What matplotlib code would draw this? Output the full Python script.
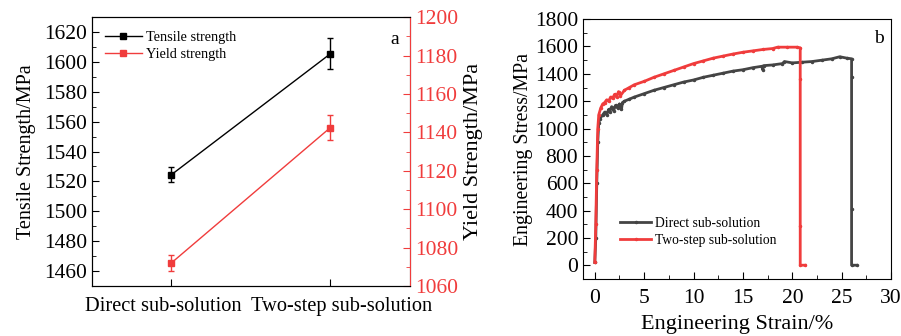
import matplotlib
matplotlib.use('Agg')
import matplotlib.pyplot as plt
from matplotlib.ticker import MultipleLocator

plt.rcParams['font.family'] = 'Liberation Serif'

# Panel a data
groups = ['Direct sub-solution', 'Two-step sub-solution']
tensile = [1524.5, 1605.5]
tensile_err = [5, 10.5]
yield_s = [1072, 1142.5]
yield_err = [4, 6.5]

# Panel b data (engineering stress-strain)
direct_strain = [0, 0.1, 0.2, 0.3, 0.4, 0.5, 0.8, 1.0, 1.2, 1.4, 1.5, 1.7, 1.9, 2.1, 2.3, 2.5, 2.7, 2.8, 3.0, 3.5,
                 4, 5, 6, 7, 8, 9, 10, 11, 12, 13, 14, 15, 16, 16.9, 17.0, 17.1, 18, 19, 19.2, 20, 21, 22, 23, 24,
                 24.8, 25.5, 26.0, 26.0, 26.0, 26.0, 26.5]
direct_stress = [20, 200, 600, 900, 1040, 1070, 1100, 1120, 1100, 1140, 1120, 1160, 1130, 1170, 1150, 1180, 1140,
                 1190, 1200, 1215, 1230, 1255, 1280, 1300, 1320, 1340, 1355, 1375, 1390, 1405, 1420, 1430, 1445,
                 1455, 1430, 1460, 1465, 1475, 1490, 1480, 1485, 1490, 1500, 1510, 1525, 1515, 1510, 1380, 410, 0, 0]
twostep_strain = [0, 0.1, 0.2, 0.3, 0.4, 0.6, 0.8, 1.0, 1.2, 1.4, 1.6, 1.8, 2.0, 2.2, 2.4, 2.6, 3.0, 3.5, 4, 5,
                  6, 7, 8, 9, 10, 11, 12, 13, 14, 15, 16, 17, 18, 18.5, 19.5, 20.5, 20.8, 20.8, 20.8, 20.8, 21.3]
twostep_stress = [20, 300, 700, 1000, 1100, 1150, 1180, 1190, 1210, 1200, 1230, 1220, 1250, 1230, 1270, 1240, 1280,
                  1300, 1320, 1345, 1375, 1400, 1425, 1450, 1475, 1495, 1515, 1530, 1545, 1558, 1568, 1578, 1585,
                  1595, 1595, 1595, 1590, 1360, 290, 0, 0]

black = '#000000'
red = '#f03c3c'
gray = '#444444'

fig = plt.figure(figsize=(9.01, 3.36), dpi=100)

# ---- panel a ----
ax1 = fig.add_axes([0.102, 0.149, 0.353, 0.800])
x = [0, 1]
l1 = ax1.errorbar(x, tensile, yerr=tensile_err, color=black, marker='s', markersize=5,
                  lw=1, capsize=2.5, elinewidth=1, label='Tensile strength')
ax1.set_xlim(-0.5, 1.5)
ax1.set_ylim(1450, 1630)
ax1.set_xticks(x)
ax1.set_xticklabels([])
# category labels sit slightly apart from their ticks in the original
xform = ax1.get_xaxis_transform()
for xi, name, dx in zip(x, groups, [-6, 8]):
    ax1.annotate(name, (xi, 0), xycoords=xform, xytext=(dx, -8), textcoords='offset points',
                 ha='center', va='top', fontsize=14.7)
ax1.yaxis.set_major_locator(MultipleLocator(20))
ax1.yaxis.set_minor_locator(MultipleLocator(10))
ax1.tick_params(which='both', direction='in')
ax1.tick_params(axis='y', labelsize=15.5)
ax1.tick_params(which='major', length=5)
ax1.tick_params(which='minor', length=3)
ax1.set_ylabel('Tensile Strength/MPa', fontsize=14.5, labelpad=6)
ax1.text(0.965, 0.95, 'a', transform=ax1.transAxes, fontsize=14, ha='right', va='top')

ax2 = ax1.twinx()
l2 = ax2.errorbar(x, yield_s, yerr=yield_err, color=red, marker='s', markersize=5,
                  lw=1, capsize=2.5, elinewidth=1, label='Yield strength')
ax2.set_ylim(1060, 1200)
ax2.yaxis.set_major_locator(MultipleLocator(20))
ax2.yaxis.set_minor_locator(MultipleLocator(10))
ax2.tick_params(which='both', direction='in', colors=red, labelsize=15.5)
ax2.tick_params(which='major', length=5)
ax2.tick_params(which='minor', length=3)
ax2.spines['right'].set_color(red)
ax2.set_ylabel('Yield Strength/MPa', fontsize=16, labelpad=4)
ax1.legend(handles=[l1[0], l2[0]], labels=['Tensile strength', 'Yield strength'],
           loc='upper left', frameon=False, fontsize=10.3,
           bbox_to_anchor=(0.0, 0.995), handlelength=2.6, handletextpad=0.25, labelspacing=0.25)

# ---- panel b ----
ax3 = fig.add_axes([0.647, 0.170, 0.342, 0.773])
ax3.plot(direct_strain, direct_stress, color=gray, lw=2, marker='.', markersize=3,
         label='Direct sub-solution')
ax3.plot(twostep_strain, twostep_stress, color=red, lw=2, marker='.', markersize=3,
         label='Two-step sub-solution')
ax3.set_xlim(-1.2, 30)
ax3.set_ylim(-100, 1800)
ax3.xaxis.set_major_locator(MultipleLocator(5))
ax3.xaxis.set_minor_locator(MultipleLocator(2.5))
ax3.yaxis.set_major_locator(MultipleLocator(200))
ax3.yaxis.set_minor_locator(MultipleLocator(100))
ax3.tick_params(which='both', direction='in', labelsize=15.5)
ax3.tick_params(which='major', length=5)
ax3.tick_params(which='minor', length=3)
ax3.tick_params(axis='x', pad=7)
ax3.set_xlabel('Engineering Strain/%', fontsize=16, labelpad=5)
ax3.set_ylabel('Engineering Stress/MPa', fontsize=14.3, labelpad=1)
ax3.text(0.975, 0.96, 'b', transform=ax3.transAxes, fontsize=14, ha='right', va='top')
ax3.legend(loc='lower left', frameon=False, fontsize=9.8, bbox_to_anchor=(0.08, 0.075),
           handlelength=2.3, handletextpad=0.3, labelspacing=0.3)

plt.savefig('out.png', dpi=100)
